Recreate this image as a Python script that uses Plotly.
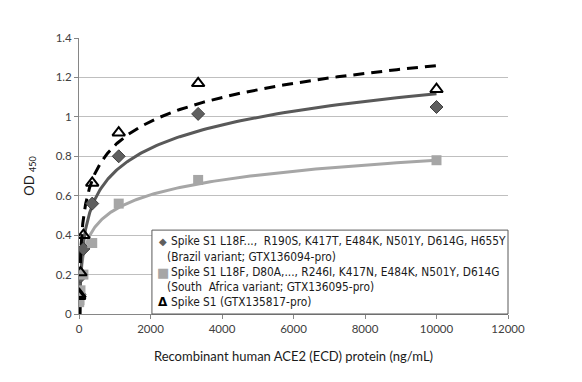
import numpy as np
import plotly.graph_objects as go

# Data
conc = [10000, 3333, 1111, 370, 123, 41, 13.7, 4.6]
brazil = [1.05, 1.015, 0.80, 0.56, 0.33, 0.19, 0.10, 0.09]
south_africa = [0.78, 0.68, 0.56, 0.36, 0.20, 0.12, 0.07, 0.06]
spike_s1 = [1.14, 1.17, 0.92, 0.665, 0.40, 0.21, 0.10, 0.09]

# Logarithmic trendline coefficients (y = a*ln(x) + b)
trend_brazil = (0.172, -0.467)
trend_sa = (0.109, -0.224)
trend_s1 = (0.176, -0.361)

series_names = [
    "Spike S1 L18F...,  R190S, K417T, E484K, N501Y, D614G, H655Y",
    "Spike S1 L18F, D80A,..., R246I, K417N, E484K, N501Y, D614G",
    "Spike S1 (GTX135817-pro)",
]
series_subnames = [
    "(Brazil variant; GTX136094-pro)",
    "(South  Africa variant; GTX136095-pro)",
    None,
]

xticks = [0, 2000, 4000, 6000, 8000, 10000, 12000]
yticks = [0, 0.2, 0.4, 0.6, 0.8, 1.0, 1.2, 1.4]
ytick_text = ["0", "0.2", "0.4", "0.6", "0.8", "1", "1.2", "1.4"]

colors = {"brazil": "#5f5f5f", "sa": "#a6a6a6", "s1": "#000000"}

xfit = np.geomspace(1.5, max(conc), 300)

def trend(coef):
    a, b = coef
    return a * np.log(xfit) + b

fig = go.Figure()
fig.add_trace(go.Scatter(x=xfit, y=trend(trend_sa), mode="lines",
                         line=dict(color="#a6a6a6", width=3), showlegend=False, hoverinfo="skip"))
fig.add_trace(go.Scatter(x=xfit, y=trend(trend_brazil), mode="lines",
                         line=dict(color="#595959", width=3), showlegend=False, hoverinfo="skip"))
fig.add_trace(go.Scatter(x=xfit, y=trend(trend_s1), mode="lines",
                         line=dict(color="#000000", width=3, dash="11px,7px"), showlegend=False, hoverinfo="skip"))

fig.add_trace(go.Scatter(x=conc, y=brazil, mode="markers", name=series_names[0], showlegend=False,
                         marker=dict(symbol="diamond", size=10, color=colors["brazil"],
                                     line=dict(color="#404040", width=1))))
fig.add_trace(go.Scatter(x=conc, y=south_africa, mode="markers", name=series_names[1], showlegend=False,
                         marker=dict(symbol="square", size=10, color=colors["sa"],
                                     line=dict(width=0))))
fig.add_trace(go.Scatter(x=conc, y=spike_s1, mode="markers", name=series_names[2], showlegend=False,
                         marker=dict(symbol="triangle-up-open", size=11, color=colors["s1"],
                                     line=dict(color="#000000", width=2))))

font = "Lato, 'Open Sans', sans-serif"
legend_font = "'DejaVu Sans Condensed', 'DejaVu Sans', sans-serif"

# Legend box (paper coordinates)
fig.add_shape(type="rect", xref="paper", yref="paper", x0=0.170, x1=1.0, y0=0.0, y1=0.304,
              line=dict(color="#595959", width=1), fillcolor="white", layer="above")

line_y = [0.264, 0.207, 0.152, 0.098, 0.043]
symbols = [("◆", colors["brazil"], 10), ("■", colors["sa"], 13), ("<b>Δ</b>", colors["s1"], 12)]
entries = [(symbols[0], series_names[0], series_subnames[0]),
           (symbols[1], series_names[1], series_subnames[1]),
           (symbols[2], series_names[2], series_subnames[2])]
row = 0
annotations = []
for (sym, col, sz), name, sub in entries:
    annotations.append(dict(xref="paper", yref="paper", x=0.196, y=line_y[row], text=sym,
                            showarrow=False, xanchor="center", yanchor="middle",
                            font=dict(family="'DejaVu Sans', sans-serif", size=sz, color=col)))
    annotations.append(dict(xref="paper", yref="paper", x=0.209, y=line_y[row], text=name,
                            showarrow=False, xanchor="left", yanchor="middle",
                            font=dict(family=legend_font, size=11.8, color="#1a1a1a")))
    row += 1
    if sub:
        annotations.append(dict(xref="paper", yref="paper", x=0.200, y=line_y[row], text=sub,
                                showarrow=False, xanchor="left", yanchor="middle",
                                font=dict(family=legend_font, size=11.8, color="#1a1a1a")))
        row += 1

fig.update_layout(
    width=574, height=374,
    margin=dict(l=71, r=74, t=30, b=68),
    paper_bgcolor="white", plot_bgcolor="white",
    font=dict(family=font, size=11, color="#404040"),
    showlegend=False,
    annotations=annotations,
    xaxis=dict(range=[0, 12000], tickvals=xticks, ticktext=[str(v) for v in xticks],
               showgrid=False, zeroline=False, showline=True, linecolor="#868686", linewidth=1,
               ticks="outside", ticklen=4, tickcolor="#868686", automargin=False,
               tickfont=dict(size=11.5, color="#404040"),
               title=dict(text="Recombinant human ACE2 (ECD) protein (ng/mL)",
                          font=dict(size=13, color="#1a1a1a"), standoff=18)),
    yaxis=dict(range=[0, 1.4], tickvals=yticks, ticktext=ytick_text,
               showgrid=True, gridcolor="#bfbfbf", gridwidth=1, zeroline=False,
               showline=True, linecolor="#868686", linewidth=1,
               ticks="outside", ticklen=4, tickcolor="#868686", automargin=False,
               tickfont=dict(size=11.5, color="#404040"),
               title=dict(text="OD <sub>450</sub>", font=dict(size=13, color="#1a1a1a"), standoff=18)),
)

fig.write_html("out.html")
